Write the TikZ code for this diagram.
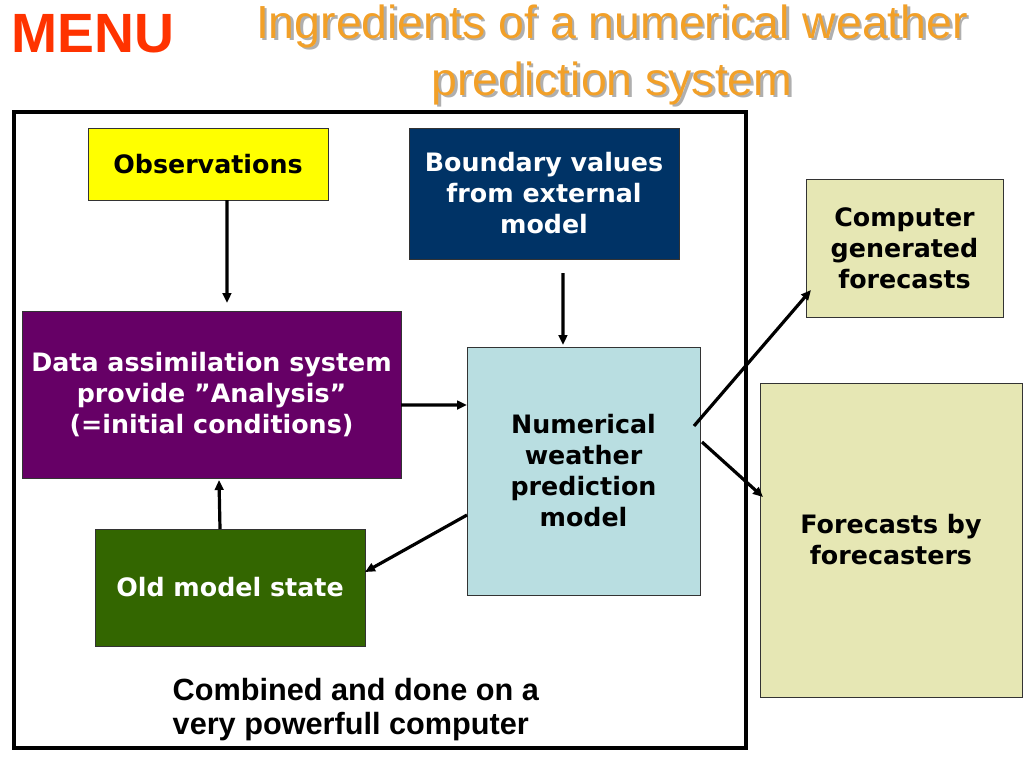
\documentclass[tikz,border=0pt]{standalone}
\usepackage{fontspec}
\setmainfont{Liberation Sans}
\newfontfamily\boxfont{DejaVu Sans}
\usetikzlibrary{arrows.meta}
\definecolor{cyellow}{RGB}{255,255,0}
\definecolor{cnavy}{RGB}{0,51,102}
\definecolor{ckhaki}{RGB}{230,231,180}
\definecolor{cpurple}{RGB}{102,0,102}
\definecolor{clblue}{RGB}{185,222,225}
\definecolor{cgreen}{RGB}{51,102,0}
\definecolor{corange}{RGB}{242,160,40}
\definecolor{cshadow}{RGB}{175,175,175}
\definecolor{cmenu}{RGB}{255,51,0}
\newcommand\shtext[1]{\makebox[0pt][l]{\hspace*{1.9pt}\raisebox{-1.9pt}{\textcolor{cshadow}{#1}}}\textcolor{corange}{#1}}
\tikzset{
  box/.style={draw=black!80, line width=0.6pt, anchor=north west, inner sep=0pt, outer sep=0pt,
    align=center, font=\boxfont\bfseries\fontsize{19}{23.25}\selectfont},
  arr/.style={line width=2.4pt, -{Triangle[length=7.5pt,width=6.5pt]}},
  titletext/.style={align=center, font=\fontsize{34.8}{42.75}\selectfont},
}
\begin{document}
\begin{tikzpicture}[x=0.75pt,y=-0.75pt]
\useasboundingbox (0,0) rectangle (1023,767);
% title
\node[text=cmenu, font=\bfseries\fontsize{41.5}{41.5}\selectfont] (menu) at (93,34) {MENU};
\node[titletext] (title) at (612,56) {\shtext{Ingredients of a numerical weather}\\\shtext{prediction system}};
% frame
\draw[line width=3pt] (14,112) rectangle (746,748);
% boxes
\node[box, fill=cyellow, minimum width=180pt, minimum height=54pt] (obs) at (88,128) {Observations};
\node[box, fill=cnavy, text=white, minimum width=202.5pt, minimum height=98.25pt] (bnd) at (409,128) {Boundary values\\from external\\model};
\node[box, fill=ckhaki, minimum width=147.75pt, minimum height=103.5pt] (cgf) at (806,179) {Computer\\generated\\forecasts};
\node[box, fill=cpurple, text=white, minimum width=284.25pt, minimum height=125.25pt] (da) at (22,311) {Data assimilation system\\provide ”Analysis”\\(=initial conditions)};
\node[box, fill=clblue, minimum width=174.75pt, minimum height=186pt] (nwp) at (467,347) {Numerical\\weather\\prediction\\model};
\node[box, fill=ckhaki, minimum width=196.5pt, minimum height=235.5pt] (fbf) at (760,383) {Forecasts by\\forecasters};
\node[box, fill=cgreen, text=white, minimum width=202.5pt, minimum height=87.75pt] (old) at (95,529) {Old model state};
\node[anchor=west, align=left, font=\bfseries\fontsize{23}{25.5}\selectfont] (comb) at (168,710) {Combined and done on a\\very powerfull computer};
% arrows
\draw[arr, shorten >=6pt] ([xshift=14.25pt]obs.south) -- ([xshift=11.6pt]da.north);
\draw[arr, shorten <=10.5pt, shorten >=1.5pt] ([xshift=14.25pt]bnd.south) -- ([xshift=-15.4pt]nwp.north);
\draw[arr] ([yshift=-7.9pt]da.east) -- ([yshift=49.5pt]nwp.west);
\draw[arr, shorten >=1.5pt] ([xshift=-7.5pt]old.north) -- ([xshift=5.6pt]da.south);
\draw[arr] ([yshift=-33pt]nwp.west) -- ([yshift=11.6pt]old.east);
\draw[arr] ([xshift=-4.5pt,yshift=33.75pt]nwp.east) -- ([xshift=3.75pt,yshift=-31.5pt]cgf.west);
\draw[arr] ([xshift=1.5pt,yshift=21.75pt]nwp.east) -- ([xshift=2.25pt,yshift=32.25pt]fbf.west);
\end{tikzpicture}
\end{document}
